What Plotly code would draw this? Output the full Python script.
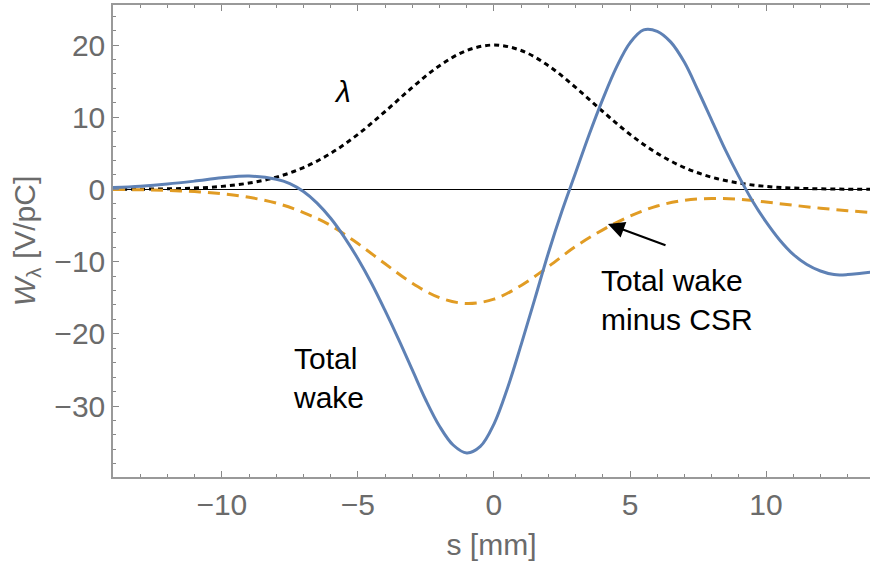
import plotly.graph_objects as go

# s grid [mm]
s_lam = [-14, -13, -12, -11, -10, -9, -8, -7, -6, -5, -4, -3, -2, -1, 0,
         1, 2, 3, 4, 5, 6, 7, 8, 9, 10, 11, 12, 13, 14]
lam = [0.01, 0.03, 0.08, 0.19, 0.42, 0.88, 1.69, 3.02, 4.99, 7.62, 10.79, 14.13, 17.14, 19.24, 20.0,
       19.24, 17.14, 14.13, 10.79, 7.62, 4.99, 3.02, 1.69, 0.88, 0.42, 0.19, 0.08, 0.03, 0.01]

s_tot = [-14, -13, -12, -11, -10, -9, -8, -7.5, -7, -6.5, -6, -5.5, -5, -4.5, -4, -3.5, -3, -2.5, -2, -1.5, -1,
         -0.5, 0, 0.5, 1, 1.5, 2, 2.5, 3, 3.5, 4, 4.5, 5, 5.5, 6, 6.5, 7, 7.5, 8, 8.5, 9, 9.5, 10,
         10.5, 11, 11.5, 12, 12.5, 13, 13.5, 14]
total = [0.25, 0.45, 0.75, 1.15, 1.6, 1.85, 1.4, 0.8, -0.3, -1.9, -4.0, -6.6, -9.6, -13.0, -16.8, -20.8, -25.0, -29.2, -32.8, -35.4, -36.5,
         -35.6, -32.5, -27.5, -21.5, -15.2, -8.8, -3.0, 2.3, 7.6, 12.5, 16.9, 20.3, 22.1, 21.9, 20.4, 17.6, 13.7, 9.6, 5.5, 1.8, -1.6, -4.5,
         -7.0, -9.0, -10.4, -11.3, -11.8, -11.8, -11.6, -11.4]

s_csr = [-14, -13, -12, -11, -10, -9, -8, -7, -6, -5, -4, -3, -2, -1, 0,
         1, 2, 3, 4, 5, 6, 7, 8, 9, 10, 11, 12, 13, 14]
minus_csr = [0.0, -0.05, -0.15, -0.3, -0.6, -1.1, -1.9, -3.2, -5.0, -7.5, -10.3, -13.0, -15.0, -15.8, -15.2,
             -13.3, -10.7, -7.9, -5.6, -3.7, -2.3, -1.5, -1.25, -1.35, -1.75, -2.2, -2.6, -2.95, -3.25]

x_ticks = [-10, -5, 0, 5, 10]
y_ticks = [-30, -20, -10, 0, 10, 20]

FONT = "Liberation Sans, Arial, sans-serif"
GRAY = "#6b6b6b"

fig = go.Figure()
fig.add_trace(go.Scatter(x=s_lam, y=lam, mode="lines", line=dict(color="black", width=3, dash="5px,4px", shape="spline"),
                         name="λ", hoverinfo="skip"))
fig.add_trace(go.Scatter(x=s_csr, y=minus_csr, mode="lines", line=dict(color="#E19C24", width=3, dash="12px,7px", shape="spline"),
                         name="Total wake minus CSR"))
fig.add_trace(go.Scatter(x=s_tot, y=total, mode="lines", line=dict(color="#5E81B5", width=3, shape="spline"),
                         name="Total wake"))

fig.add_annotation(x=-5.56, y=13.5, text="<i>λ</i>", showarrow=False, font=dict(family=FONT, size=30, color="black"))
fig.add_annotation(x=-6.08, y=-26.1, text="Total<br>wake", showarrow=False, align="left",
                   font=dict(family=FONT, size=30, color="black"))
fig.add_annotation(x=3.85, y=-15.3, text="Total wake<br>minus CSR", showarrow=False, align="left", xanchor="left",
                   font=dict(family=FONT, size=30, color="black"))
fig.add_annotation(x=4.19, y=-4.8, ax=6.36, ay=-7.8, axref="x", ayref="y", text="", showarrow=True,
                   arrowhead=2, arrowsize=1.5, arrowwidth=2.2, arrowcolor="black")

fig.update_layout(
    width=870, height=563,
    margin=dict(l=113, r=0, t=5, b=86),
    paper_bgcolor="white", plot_bgcolor="white",
    showlegend=False,
    font=dict(family=FONT, size=30, color=GRAY),
    xaxis=dict(range=[-14, 13.82], tickvals=x_ticks, ticktext=["−10", "−5", "0", "5", "10"],
               ticks="inside", ticklen=6, tickcolor="#888", tickwidth=1,
               minor=dict(dtick=1, tick0=0, ticks="inside", ticklen=3, tickcolor="#888"),
               showline=True, linecolor="#999", linewidth=1.5, mirror="allticks",
               showgrid=False, zeroline=False,
               title=dict(text="s [mm]", font=dict(family=FONT, size=30, color=GRAY), standoff=14),
               tickfont=dict(family=FONT, size=30, color=GRAY)),
    yaxis=dict(range=[-39.83, 25.54], tickvals=y_ticks, ticktext=["−30", "−20", "−10", "0", "10", "20"],
               ticks="inside", ticklen=6, tickcolor="#888", tickwidth=1,
               minor=dict(dtick=2, tick0=0, ticks="inside", ticklen=3, tickcolor="#888"),
               showline=True, linecolor="#999", linewidth=1.5, mirror=False,
               showgrid=False, zeroline=True, zerolinecolor="black", zerolinewidth=1,
               title=dict(text="<i>W</i><sub>λ</sub> [V/pC]", font=dict(family=FONT, size=30, color=GRAY), standoff=10),
               tickfont=dict(family=FONT, size=30, color=GRAY)),
)

fig.write_html("out.html")
